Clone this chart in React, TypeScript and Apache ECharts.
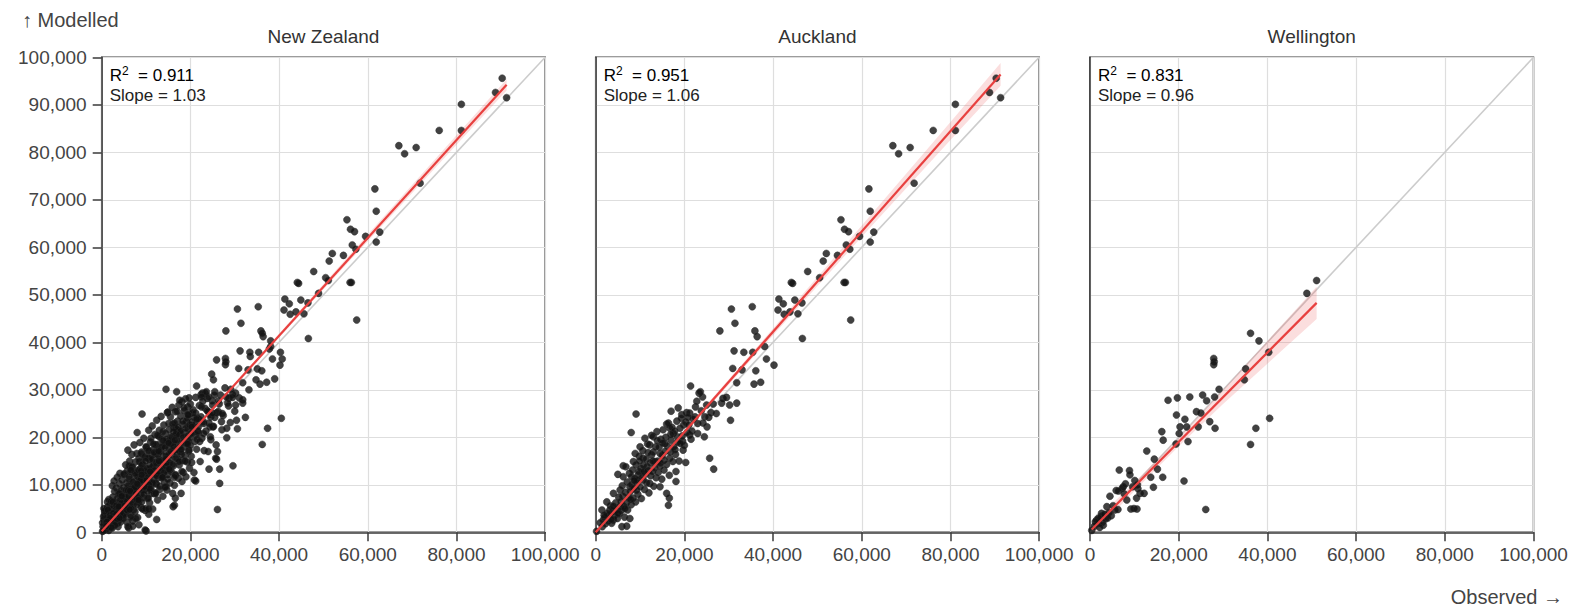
import React, { useEffect, useRef } from "react";
import * as echarts from "echarts";

// ---- Labels ----
const panelTitles = ["New Zealand", "Auckland", "Wellington"];
const r2Labels = ["0.911", "0.951", "0.831"];
const slopeLabels = ["1.03", "1.06", "0.96"];
const yAxisTitle = "↑ Modelled";
const xAxisTitle = "Observed →";

// ---- Data (values in thousands: [observed, modelled]) ----
const aucklandPoints = [
  [90.3, 95.6], [88.8, 92.6], [91.3, 91.5], [81.1, 90.1], [81.1, 84.6], [76.1, 84.6], [67.0, 81.4], [68.3, 79.7],
  [70.9, 81.0], [71.8, 73.5], [61.6, 72.3], [61.9, 67.6], [55.3, 65.8], [56.1, 63.8], [57.0, 63.3], [62.7, 63.2],
  [59.5, 62.3], [56.5, 60.5], [61.9, 61.1], [57.3, 59.6], [54.5, 58.3], [52.0, 58.7], [51.3, 57.1], [47.8, 54.9],
  [50.5, 53.6], [56.0, 52.6], [56.3, 52.6], [44.1, 52.6], [44.4, 52.4],
  [57.5, 44.7], [41.3, 49.1], [42.3, 48.1], [41.1, 46.8], [42.5, 45.9], [43.8, 46.4], [44.9, 48.9], [46.5, 48.3],
  [45.6, 46.0], [46.6, 40.8], [30.6, 47.0], [35.3, 47.5], [31.4, 44.0], [28.0, 42.4], [35.9, 42.4], [36.4, 41.2],
  [38.1, 39.1], [31.2, 38.2], [33.4, 37.9], [35.4, 37.9], [38.5, 36.5], [40.2, 35.2], [30.9, 34.5], [33.0, 34.2],
  [36.1, 34.0], [31.8, 31.5], [35.7, 31.2], [37.2, 31.6], [21.4, 30.8], [23.3, 29.3], [24.1, 28.5], [23.6, 29.6],
  [28.7, 28.2], [29.5, 28.4], [28.4, 27.2], [30.2, 26.8], [31.8, 27.2], [30.4, 23.6], [9.1, 24.9], [8.0, 21.0],
  [18.6, 26.2], [17.0, 25.5], [20.5, 25.2], [19.4, 24.8], [21.2, 25.1], [22.4, 24.3], [24.6, 24.3], [26.0, 25.2],
  [25.1, 22.2], [23.0, 20.8], [24.5, 20.1], [25.7, 15.6], [26.6, 13.3], [20.3, 14.7], [21.2, 20.5], [16.0, 22.8],
  [16.7, 21.9], [17.5, 20.8], [18.4, 20.1], [19.6, 19.2], [19.7, 17.3], [15.6, 18.7], [14.5, 16.6], [15.4, 15.2],
  [16.7, 15.6], [18.1, 12.8], [18.1, 10.7], [16.0, 8.2], [16.6, 7.2], [16.4, 5.7], [14.5, 9.6], [13.0, 20.1],
  [11.1, 19.8], [12.2, 18.4], [10.0, 18.0], [8.9, 16.6], [10.7, 15.6], [12.6, 16.3], [13.4, 14.9], [11.6, 13.8],
  [6.2, 14.0], [6.8, 13.8], [8.5, 14.9], [5.0, 12.2], [6.2, 11.7], [8.1, 11.7], [9.6, 12.1], [10.7, 11.0],
  [12.2, 10.3], [7.7, 9.6], [9.2, 8.9], [5.5, 8.9], [4.0, 8.2], [2.5, 6.4], [1.4, 4.7], [3.2, 4.7],
  [5.5, 5.4], [7.7, 2.9], [5.9, 1.2], [7.0, 1.3], [4.0, 2.6], [1.7, 2.6], [0.2, 0.2],
  [1.0, 2.0], [1.5, 1.2], [2.0, 3.1], [2.2, 1.8], [2.8, 2.4], [3.0, 3.6], [3.3, 5.6], [3.6, 1.9],
  [3.8, 4.4], [4.2, 3.5], [4.5, 6.2], [4.6, 4.8], [4.9, 2.9], [5.2, 7.4], [5.3, 3.9], [5.7, 6.5],
  [5.8, 4.6], [6.0, 9.8], [6.1, 7.6], [6.3, 5.5], [6.5, 3.2], [6.7, 8.4], [6.9, 6.2], [7.1, 10.6],
  [7.2, 4.7], [7.4, 7.3], [7.6, 12.4], [7.8, 8.6], [8.0, 5.8], [8.1, 10.0], [8.3, 13.1], [8.4, 7.2],
  [8.6, 9.2], [8.8, 11.3], [9.0, 6.4], [9.1, 14.2], [9.3, 10.4], [9.5, 8.0], [9.7, 12.8], [9.8, 16.0],
  [10.0, 9.6], [10.2, 13.4], [10.3, 7.1], [10.5, 11.6], [10.6, 17.2], [10.8, 14.1], [11.0, 9.0], [11.2, 12.3],
  [11.4, 15.4], [11.5, 10.4], [11.7, 18.6], [11.9, 13.0], [12.0, 8.3], [12.3, 14.6], [12.4, 11.9], [12.6, 20.4],
  [12.8, 12.8], [13.0, 16.9], [13.1, 9.7], [13.3, 13.6], [13.5, 18.0], [13.6, 11.5], [13.8, 21.2], [14.0, 15.0],
  [14.1, 12.6], [14.3, 17.9], [14.5, 13.9], [14.7, 19.6], [14.9, 11.2], [15.0, 16.2], [15.2, 21.6], [15.4, 13.1],
  [15.6, 17.0], [15.8, 20.0], [16.0, 14.3], [16.2, 18.1], [16.4, 23.0], [16.6, 12.0], [16.8, 16.9], [17.0, 19.4],
  [17.2, 22.1], [17.4, 14.9], [17.6, 18.0], [17.8, 21.3], [18.0, 16.4], [18.3, 23.4], [18.5, 19.0], [18.8, 15.0],
  [19.0, 21.9], [19.3, 24.0], [19.5, 20.3], [19.8, 22.6], [20.0, 18.3], [20.3, 23.2], [20.6, 21.0], [21.0, 22.6],
  [21.5, 19.6], [22.0, 23.8], [22.5, 26.4], [23.0, 22.9], [23.8, 25.6], [24.2, 23.0], [25.0, 26.8], [25.5, 24.2],
  [26.5, 27.0], [27.2, 25.0], [22.8, 27.6], [2.6, 4.0], [3.5, 2.7], [1.9, 3.6], [4.0, 5.5], [5.0, 4.0],
  [6.6, 5.0], [7.9, 6.9], [9.4, 11.0], [11.8, 16.8], [13.9, 19.3], [15.1, 18.8], [16.9, 20.6], [12.9, 15.0],
  [10.9, 12.8], [8.7, 10.9], [9.9, 15.0], [14.6, 14.6], [17.9, 17.4], [19.1, 18.7], [20.8, 24.2], [21.7, 21.3],
];

const wellingtonPoints = [
  [51.1, 53.0], [48.9, 50.3], [36.2, 41.9], [38.1, 40.3], [40.3, 37.9], [27.9, 36.6], [28.0, 35.9], [27.9, 35.3],
  [35.1, 34.4], [34.8, 32.1], [29.1, 30.1], [28.1, 28.5], [25.4, 28.9], [26.3, 27.7], [22.5, 28.5], [19.7, 28.3],
  [17.6, 27.8], [24.0, 25.4], [25.0, 25.1], [19.5, 24.7], [21.4, 23.8], [20.3, 22.2], [21.8, 22.2], [24.4, 22.2],
  [27.0, 23.3], [28.2, 21.9], [20.1, 20.8], [22.1, 19.1], [16.2, 21.2], [16.5, 19.4], [19.4, 18.6], [37.4, 21.9],
  [36.2, 18.5], [40.5, 24.0], [12.8, 17.1], [14.5, 15.4], [15.2, 13.3], [13.7, 11.6], [16.4, 11.6], [14.3, 9.5],
  [21.2, 10.8], [26.1, 4.8], [6.6, 13.1], [8.9, 13.0], [9.0, 12.1], [10.1, 10.9], [10.7, 10.0], [11.3, 8.2],
  [12.2, 8.2], [10.5, 7.2], [10.8, 9.2], [7.5, 9.6], [7.3, 9.3], [5.9, 8.8], [4.5, 7.6], [6.4, 8.7],
  [7.7, 8.1], [8.3, 6.8], [9.2, 4.9], [9.9, 5.0], [10.6, 4.9], [3.8, 5.4], [5.6, 4.7], [6.3, 4.8],
  [2.6, 4.0], [1.5, 2.6], [2.6, 3.4], [1.9, 1.9], [2.8, 2.1], [3.5, 2.8], [0.4, 0.4], [1.9, 3.0],
  [1.2, 2.2], [4.8, 3.5], [4.3, 4.1], [3.0, 1.5], [2.2, 1.0], [4.0, 3.0], [5.2, 5.6], [8.0, 10.2],
  [9.6, 9.6], [3.3, 3.8], [1.0, 1.3],
];

// Points from the rest of the country (New Zealand panel only)
const otherRegionPoints = [
  [0.3, 1.2], [0.5, 2.6], [0.6, 0.5], [0.8, 3.8], [0.9, 1.6], [1.0, 4.6], [1.1, 0.8], [1.2, 2.9],
  [1.3, 5.3], [1.4, 1.9], [1.5, 3.6], [1.6, 0.4], [1.7, 4.2], [1.8, 2.4], [1.9, 5.8], [2.0, 1.3],
  [0.4, 3.3], [0.7, 4.4], [1.3, 6.4], [0.2, 2.0], [1.6, 6.9], [0.5, 5.0], [2.0, 3.9], [0.9, 2.2],
  [2.1, 6.5], [2.2, 2.2], [2.3, 4.8], [2.4, 0.9], [2.5, 7.4], [2.6, 3.0], [2.7, 5.5], [2.8, 1.6],
  [2.9, 8.6], [3.0, 4.2], [3.1, 6.2], [3.2, 2.5], [3.3, 9.3], [3.4, 5.0], [3.5, 7.1], [3.6, 3.4],
  [3.7, 1.2], [3.8, 8.0], [3.9, 5.9], [4.0, 10.2], [4.1, 4.1], [4.2, 6.8], [4.3, 2.2], [4.4, 8.8],
  [4.5, 5.2], [4.6, 11.0], [4.7, 7.6], [4.8, 3.3], [4.9, 9.4], [5.0, 6.1], [2.4, 9.8], [3.5, 11.6],
  [4.1, 12.4], [2.8, 10.8],
  [5.1, 12.3], [5.2, 4.0], [5.3, 8.2], [5.4, 14.2], [5.5, 6.6], [5.6, 10.4], [5.7, 2.1], [5.8, 13.0],
  [5.9, 17.3], [6.0, 7.5], [6.1, 11.2], [6.2, 5.0], [6.3, 15.0], [6.4, 9.1], [6.5, 12.8], [6.6, 3.6],
  [6.7, 7.0], [6.8, 16.4], [6.9, 10.6], [7.0, 13.7], [7.1, 5.8], [7.2, 8.7], [7.3, 18.4], [7.4, 11.9],
  [7.5, 4.3], [7.6, 14.8], [7.7, 7.9], [7.8, 10.1], [7.9, 16.6], [8.0, 12.7], [8.1, 3.1], [8.2, 9.5],
  [8.3, 6.4], [8.4, 15.6], [8.5, 11.1], [8.6, 18.9], [8.7, 13.4], [8.8, 8.2], [8.9, 5.2], [9.0, 16.9],
  [9.1, 10.9], [9.2, 14.3], [9.3, 7.3], [9.4, 12.2], [9.5, 19.8], [9.6, 9.0], [9.7, 15.7], [9.8, 4.6],
  [9.9, 11.7], [10.0, 0.3], [6.1, 0.9], [9.8, 0.5], [8.4, 1.6], [7.0, 2.4],
  [10.1, 17.9], [10.2, 13.2], [10.3, 8.7], [10.4, 17.3], [10.5, 10.5], [10.6, 21.5], [10.7, 15.4], [10.8, 6.2],
  [10.9, 12.4], [11.0, 19.0], [11.1, 9.4], [11.2, 16.1], [11.3, 13.6], [11.4, 22.4], [11.5, 4.9], [11.6, 11.0],
  [11.7, 17.4], [11.8, 14.7], [11.9, 8.1], [12.0, 20.6], [12.1, 12.3], [12.2, 16.6], [12.3, 10.2], [12.4, 23.6],
  [12.5, 14.0], [12.6, 6.8], [12.7, 18.5], [12.8, 11.5], [12.9, 15.3], [13.0, 21.5], [13.1, 9.0], [13.2, 13.0],
  [13.3, 17.2], [13.4, 24.4], [13.5, 11.9], [13.6, 19.6], [13.7, 14.4], [13.8, 7.6], [13.9, 16.0], [14.0, 22.6],
  [14.1, 10.6], [14.2, 18.3], [14.3, 13.1], [14.4, 20.8], [14.5, 30.1], [14.6, 15.9], [14.7, 8.9], [14.8, 25.2],
  [14.9, 12.2], [15.0, 19.1], [14.9, 25.3], [10.6, 3.8], [12.4, 2.7],
  [15.1, 22.9], [15.2, 14.6], [15.3, 17.6], [15.4, 10.4], [15.5, 24.3], [15.6, 20.1], [15.7, 12.8], [15.8, 16.4],
  [15.9, 26.3], [16.0, 18.9], [16.1, 5.4], [16.2, 14.0], [16.3, 22.0], [16.4, 9.9], [16.5, 17.4], [16.6, 25.4],
  [16.7, 12.1], [16.8, 20.7], [16.9, 29.6], [17.0, 15.6], [17.1, 23.4], [17.2, 18.6], [17.3, 11.4], [17.4, 26.8],
  [17.5, 14.2], [17.6, 21.4], [17.7, 17.0], [17.8, 24.5], [17.9, 8.2], [18.0, 19.8], [18.1, 27.5], [18.2, 15.1],
  [18.3, 22.7], [18.4, 12.6], [18.5, 18.0], [18.6, 25.6], [18.7, 20.9], [18.8, 16.2], [18.9, 28.1], [19.0, 11.7],
  [19.1, 23.3], [19.2, 19.0], [19.3, 14.8], [19.4, 26.4], [19.5, 21.8], [19.6, 17.1], [19.7, 24.9], [19.8, 13.5],
  [19.9, 20.0], [20.0, 27.0],
  [20.2, 16.0], [20.4, 22.5], [20.6, 25.8], [20.8, 12.6], [21.0, 19.1], [21.2, 28.4], [21.4, 17.5], [21.6, 24.0],
  [21.8, 21.0], [22.0, 26.7], [22.2, 14.9], [22.4, 29.0], [22.6, 19.8], [22.7, 29.3], [22.9, 23.3], [23.1, 17.2],
  [23.3, 26.1], [23.5, 21.3], [23.8, 28.2], [24.0, 17.0], [24.2, 13.3], [24.4, 24.8], [24.6, 19.5], [24.9, 27.7],
  [25.2, 22.3], [25.5, 29.6], [25.8, 18.4], [26.1, 17.0], [26.3, 25.4], [26.6, 10.3], [26.8, 28.9], [27.1, 21.6],
  [27.4, 24.6], [27.8, 30.4], [28.2, 19.9], [28.6, 26.6], [29.0, 23.1], [29.5, 29.0], [30.0, 25.5], [30.2, 29.3],
  [30.6, 21.8], [31.0, 28.3], [31.8, 27.9], [32.4, 24.2], [33.2, 30.0], [29.6, 14.0], [20.9, 11.0], [25.9, 15.4],
  [25.9, 36.3], [24.8, 33.3], [25.2, 32.1], [33.5, 37.0], [37.8, 38.6], [39.0, 32.3], [40.7, 36.5],
];

// Regression fits: [observed, modelled] end points, in thousands
const nzFit = [[0, 0.2], [91.3, 94.2]];
const aucklandFit = [[0, 0], [91.3, 96.4]];
const wellingtonFit = [[0.4, 0.6], [51.1, 48.3]];

// Confidence bands: [observed, lower, upper], in thousands
const nzBand = [[0, 0.0, 0.4], [20, 20.6, 21.0], [40, 41.0, 41.8], [60, 61.3, 62.7], [80, 81.6, 83.6], [91.3, 93.0, 95.4]];
const aucklandBand = [[0, -0.4, 0.4], [20, 20.7, 21.5], [40, 41.5, 42.9], [60, 62.2, 64.6], [80, 82.6, 86.4], [91.3, 94.0, 98.8]];
const wellingtonBand = [[0.4, -0.7, 1.9], [10, 8.7, 10.5], [20, 18.1, 19.9], [30, 27.0, 30.0], [40, 35.5, 40.3], [51.1, 44.9, 51.7]];

const identityLine = [[0, 0], [100, 100]];

const FONT = '"Liberation Sans", Arial, Helvetica, sans-serif';
const K = 1000;
const toUnits = (pts) => pts.map((p) => [p[0] * K, p[1] * K]);
const fmt = (v) => Number(v).toLocaleString("en-US");

const GRID_LEFTS = [101.7, 595.7, 1090];
const GRID_TOP = 57.3;
const GRID_W = 443.5;
const GRID_H = 475;

export default function App() {
  const ref = useRef(null);

  useEffect(() => {
    if (!ref.current) return;
    const chart = echarts.init(ref.current, null, { renderer: "svg" });

    const panelPoints = [
      otherRegionPoints.concat(aucklandPoints, wellingtonPoints),
      aucklandPoints,
      wellingtonPoints,
    ];
    const fits = [nzFit, aucklandFit, wellingtonFit];
    const bands = [nzBand, aucklandBand, wellingtonBand];

    const grids = GRID_LEFTS.map((left) => ({
      left,
      top: GRID_TOP,
      width: GRID_W,
      height: GRID_H,
      show: true,
      borderColor: "#3a3a3a",
      borderWidth: 1.5,
      backgroundColor: "transparent",
    }));

    const xAxes = GRID_LEFTS.map((_, i) => ({
      gridIndex: i,
      type: "value",
      min: 0,
      max: 100000,
      interval: 20000,
      axisLine: { show: true, onZero: false, lineStyle: { color: "#3a3a3a", width: 1.5 } },
      axisTick: { show: true, length: 9, lineStyle: { color: "#3a3a3a", width: 1.5 } },
      axisLabel: { fontSize: 19, color: "#444", margin: 13, fontFamily: FONT, formatter: fmt },
      splitLine: { show: true, lineStyle: { color: "#dedede", width: 1.2 } },
    }));

    const yAxes = GRID_LEFTS.map((_, i) => ({
      gridIndex: i,
      type: "value",
      min: 0,
      max: 100000,
      interval: 10000,
      axisLine: { show: true, onZero: false, lineStyle: { color: "#3a3a3a", width: 1.5 } },
      axisTick: { show: i === 0, length: 9, lineStyle: { color: "#3a3a3a", width: 1.5 } },
      axisLabel: { show: i === 0, fontSize: 19, color: "#444", margin: 15, fontFamily: FONT, formatter: fmt },
      splitLine: { show: true, lineStyle: { color: "#dedede", width: 1.2 } },
    }));

    const series = [];
    for (let i = 0; i < 3; i++) {
      const band = bands[i];
      series.push({
        type: "line",
        xAxisIndex: i,
        yAxisIndex: i,
        data: toUnits(identityLine),
        symbol: "none",
        silent: true,
        lineStyle: { color: "#cccccc", width: 1.6 },
        z: 1,
      });
      series.push({
        type: "custom",
        xAxisIndex: i,
        yAxisIndex: i,
        clip: true,
        silent: true,
        data: [[band[0][0] * K, band[0][1] * K]],
        renderItem: (params, api) => {
          const upper = band.map((b) => api.coord([b[0] * K, b[2] * K]));
          const lower = band.slice().reverse().map((b) => api.coord([b[0] * K, b[1] * K]));
          return {
            type: "polygon",
            shape: { points: upper.concat(lower) },
            style: { fill: "rgba(236, 90, 90, 0.2)" },
          };
        },
        z: 2,
      });
      series.push({
        type: "scatter",
        xAxisIndex: i,
        yAxisIndex: i,
        data: toUnits(panelPoints[i]),
        symbol: "circle",
        symbolSize: 7,
        silent: true,
        itemStyle: { color: "#121212", borderColor: "#2e2e2e", borderWidth: 0.6 },
        z: 3,
      });
      series.push({
        type: "line",
        xAxisIndex: i,
        yAxisIndex: i,
        data: toUnits(fits[i]),
        symbol: "none",
        silent: true,
        lineStyle: { color: "#e8403f", width: 2.2 },
        z: 4,
      });
    }

    const statRich = {
      a: { fontSize: 17, fontFamily: FONT, color: "#222", lineHeight: 20 },
      s: { fontSize: 12, fontFamily: FONT, color: "#222", lineHeight: 12, verticalAlign: "top" },
    };

    const graphics = [];
    GRID_LEFTS.forEach((left, i) => {
      graphics.push({
        type: "text",
        x: left + GRID_W / 2,
        y: 36,
        style: { text: panelTitles[i], fontSize: 19, fontFamily: FONT, fill: "#333", align: "center", verticalAlign: "middle" },
      });
      graphics.push({
        type: "text",
        x: left + 8,
        y: 65,
        style: {
          text: "{a|R}{s|2}{a|  = " + r2Labels[i] + "}",
          rich: statRich,
          align: "left",
          verticalAlign: "top",
        },
        z: 10,
      });
      graphics.push({
        type: "text",
        x: left + 8,
        y: 87,
        style: { text: "Slope = " + slopeLabels[i], fontSize: 17, fontFamily: FONT, fill: "#222", align: "left", verticalAlign: "top" },
        z: 10,
      });
    });
    graphics.push({
      type: "text",
      x: 22,
      y: 20,
      style: { text: yAxisTitle, fontSize: 20, fontFamily: FONT, fill: "#444", align: "left", verticalAlign: "middle" },
    });
    graphics.push({
      type: "text",
      x: 1563,
      y: 597,
      style: { text: xAxisTitle, fontSize: 20, fontFamily: FONT, fill: "#444", align: "right", verticalAlign: "middle" },
    });

    chart.setOption({
      animation: false,
      textStyle: { fontFamily: FONT },
      grid: grids,
      xAxis: xAxes,
      yAxis: yAxes,
      series,
      graphic: graphics,
    });

    return () => chart.dispose();
  }, []);

  return (
    <div
      ref={ref}
      style={{ position: "fixed", left: 0, top: 0, width: 1581, height: 607, background: "#fff" }}
    />
  );
}
